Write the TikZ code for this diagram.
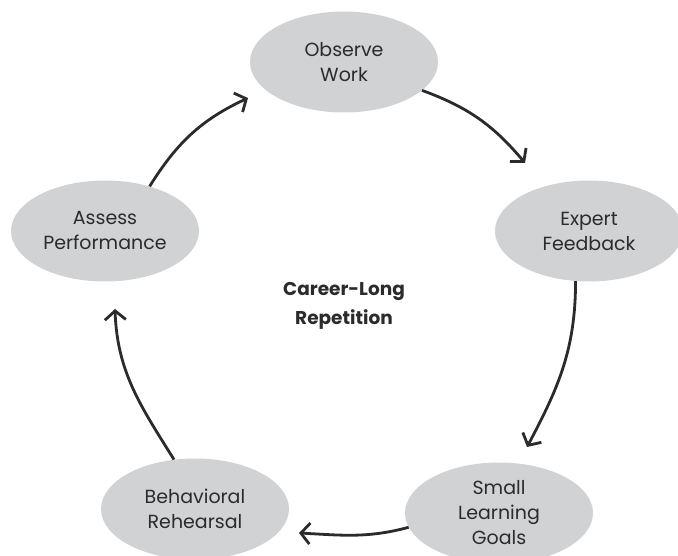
\documentclass[tikz,border=0pt]{standalone}
\usepackage{fontspec}
\setmainfont{Poppins}
\usetikzlibrary{arrows.meta,shapes.geometric}
\definecolor{bubble}{HTML}{D1D2D4}
\definecolor{ink}{HTML}{2B2B2B}
\begin{document}
\begin{tikzpicture}[x=1pt,y=-1pt,
  stage/.style={ellipse, fill=bubble, inner sep=0pt,
    minimum width=188pt, minimum height=101pt,
    align=center, text=ink, font=\fontsize{19}{25}\selectfont},
  flow/.style={line width=2.8pt, draw=ink,
    -{Straight Barb[length=9pt,width=21pt,line width=2.8pt]}}]
\useasboundingbox (0,0) rectangle (678,556);

\node[stage] (obs) at (344,62)  {Observe\\Work};
\node[stage] (exp) at (589,231) {Expert\\Feedback};
\node[stage] (slg) at (499,513) {Small\\Learning\\Goals};
\node[stage] (beh) at (195,509) {Behavioral\\Rehearsal};
\node[stage] (ass) at (105,231) {Assess\\Performance};

\node[align=center, text=ink, font=\fontsize{18.5}{29}\selectfont\bfseries]
  (core) at (344,306) {Career-Long\\Repetition};

\coordinate (e1) at (525,163);
\coordinate (e2) at (527,447);
\coordinate (e3) at (299,533);
\coordinate (e4) at (115,309);
\coordinate (e5) at (248,98);

\draw[flow] (obs.-20) to[out=-20,in=130] (e1);
\draw[flow] (exp.-105) to[out=-90,in=62] (e2);
\draw[flow] (slg.189) to[out=195,in=-3] (e3);
\draw[flow] (beh.113) to[out=122,in=-88] (e4);
\draw[flow] (ass.45) to[out=58,in=205] (e5);
\end{tikzpicture}
\end{document}
